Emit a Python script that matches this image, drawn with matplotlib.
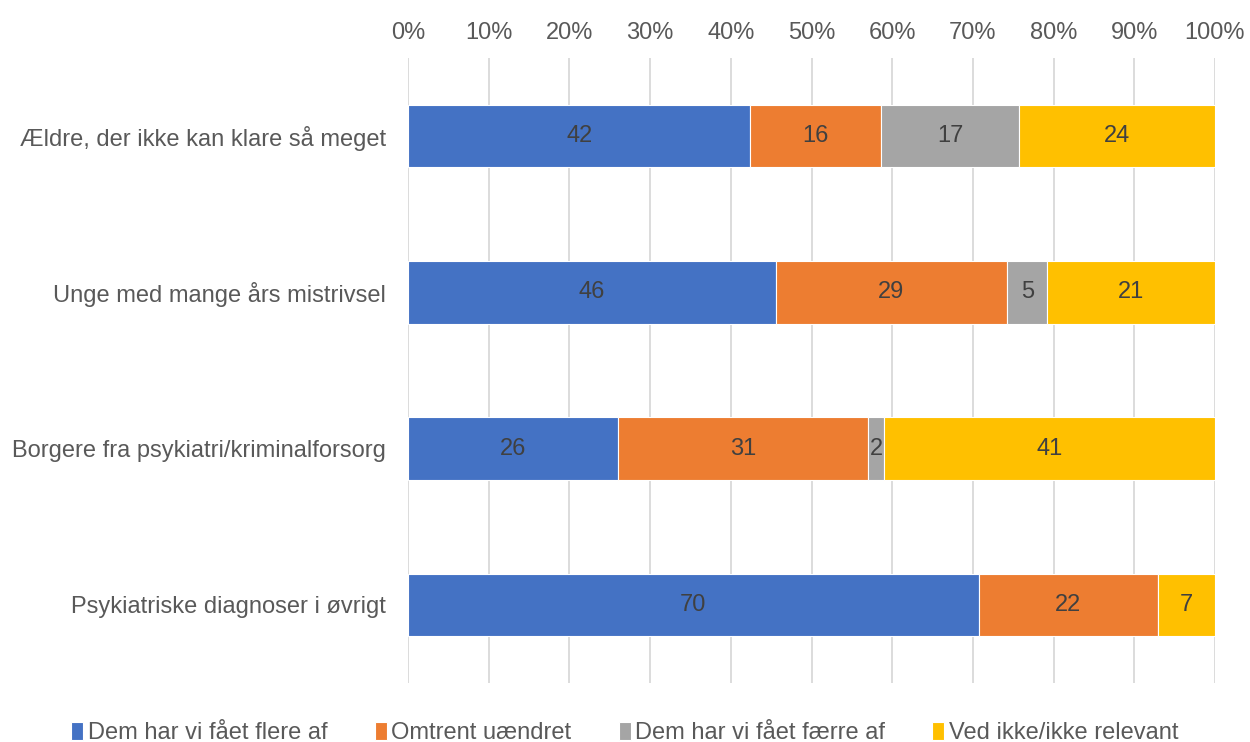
import matplotlib.pyplot as plt
import numpy as np

plt.rcParams['font.family'] = ['Liberation Sans', 'DejaVu Sans']

categories = ['Ældre, der ikke kan klare så meget',
              'Unge med mange års mistrivsel',
              'Borgere fra psykiatri/kriminalforsorg',
              'Psykiatriske diagnoser i øvrigt']
series = ['Dem har vi fået flere af', 'Omtrent uændret',
          'Dem har vi fået færre af', 'Ved ikke/ikke relevant']
values = np.array([
    [42, 16, 17, 24],
    [46, 29, 5, 21],
    [26, 31, 2, 41],
    [70, 22, 0, 7],
], dtype=float)
colors = ['#4472C4', '#ED7D31', '#A5A5A5', '#FFC000']
txt = '#404040'

# 100% stacked: normalise each row
shares = values / values.sum(axis=1, keepdims=True) * 100

fig = plt.figure(figsize=(12.5, 7.42), dpi=100)
ax = fig.add_axes([408/1250, 1-683/742, (1215-408)/1250, (683-58)/742])

y = np.arange(len(categories))
left = np.zeros(len(categories))
for j, name in enumerate(series):
    bars = ax.barh(y, shares[:, j], left=left, height=0.4, color=colors[j],
                   edgecolor='white', linewidth=0.8, label=name, zorder=3)
    for i, b in enumerate(bars):
        if values[i, j] > 0:
            ax.text(left[i] + shares[i, j]/2, y[i], f'{int(values[i, j])}',
                    ha='center', va='center', fontsize=17, color=txt, zorder=4)
    left += shares[:, j]

ax.set_xlim(0, 100)
ax.set_ylim(len(categories) - 0.5, -0.5)
ax.set_xticks(np.arange(0, 101, 10))
ax.set_xticklabels([f'{v}%' for v in range(0, 101, 10)])
ax.xaxis.tick_top()
ax.set_yticks(y)
ax.set_yticklabels(categories)
ax.tick_params(axis='both', length=0, labelsize=17, colors='#595959', pad=10)
ax.tick_params(axis='y', pad=16)
ax.grid(axis='x', color='#D9D9D9', linewidth=1.3, zorder=0)
for s in ax.spines.values():
    s.set_visible(False)

fig.legend(loc='center', bbox_to_anchor=(0.5, 1-733/742), ncol=4, frameon=False,
           fontsize=17, handlelength=0.5, handleheight=0.8, handletextpad=0.2,
           columnspacing=2.0, labelcolor='#595959')

fig.savefig('out.png')
